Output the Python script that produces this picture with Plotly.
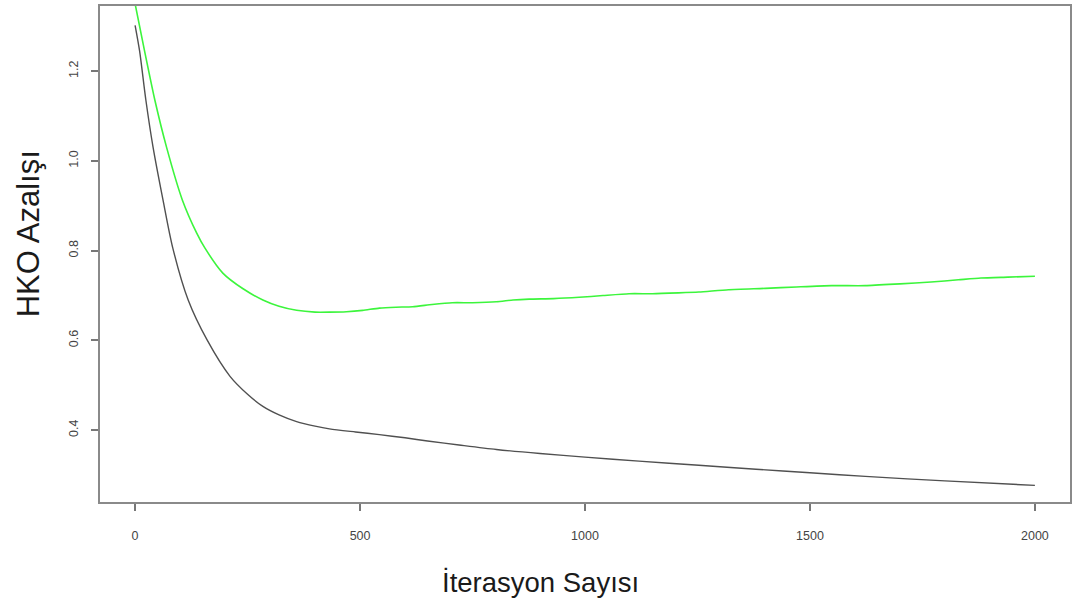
import plotly.graph_objects as go

# Black series (iteration, value)
black_x = [0, 10, 24, 40, 62, 84, 118, 160, 211, 250, 284, 320, 359, 400, 432, 490, 543, 600, 650, 720, 803, 900, 1000, 1120, 1253, 1380, 1500, 1623, 1800, 2000]
black_y = [1.302, 1.245, 1.135, 1.030, 0.913, 0.805, 0.690, 0.601, 0.520, 0.480, 0.453, 0.434, 0.419, 0.409, 0.403, 0.396, 0.390, 0.383, 0.376, 0.367, 0.357, 0.348, 0.340, 0.331, 0.322, 0.313, 0.305, 0.297, 0.287, 0.277]

# Green series
green_x = [0, 20, 44, 70, 105, 137, 155, 195, 240, 284, 320, 359, 400, 432, 470, 506, 543, 580, 617, 660, 705, 750, 803, 840, 876, 930, 987, 1040, 1098, 1150, 1208, 1253, 1319, 1401, 1470, 1548, 1623, 1700, 1769, 1830, 1880, 1940, 2000]
green_y = [1.35, 1.25, 1.135, 1.03, 0.913, 0.839, 0.806, 0.750, 0.715, 0.690, 0.676, 0.667, 0.663, 0.663, 0.664, 0.667, 0.672, 0.674, 0.675, 0.680, 0.684, 0.684, 0.686, 0.690, 0.692, 0.693, 0.696, 0.700, 0.704, 0.704, 0.706, 0.708, 0.713, 0.716, 0.719, 0.722, 0.722, 0.726, 0.730, 0.735, 0.739, 0.741, 0.743]

x_ticks = [0, 500, 1000, 1500, 2000]
y_ticks = [0.4, 0.6, 0.8, 1.0, 1.2]
y_tick_text = ["0.4", "0.6", "0.8", "1.0", "1.2"]

x_title = "İterasyon Sayısı"
y_title = "HKO Azalışı"

fig = go.Figure()
fig.add_trace(go.Scatter(x=black_x, y=black_y, mode="lines",
                         line=dict(color="#505050", width=1.4, shape="spline", smoothing=0.8),
                         showlegend=False))
fig.add_trace(go.Scatter(x=green_x, y=green_y, mode="lines",
                         line=dict(color="#3cf53c", width=1.6, shape="spline", smoothing=0.6),
                         showlegend=False))

axis_common = dict(showgrid=False, zeroline=False, showline=True, mirror=True,
                   linecolor="#8a8a8a", linewidth=2, ticks="outside", ticklen=7,
                   tickwidth=1.5, tickcolor="#777777",
                   tickfont=dict(family="Liberation Sans, Arial, sans-serif", size=12.5, color="#444444"))

fig.update_xaxes(range=[-78, 2078], tickvals=x_ticks, ticktext=[str(v) for v in x_ticks],
                 ticklabelstandoff=14, **axis_common)
fig.update_yaxes(range=[0.240, 1.345], tickvals=y_ticks, ticktext=y_tick_text,
                 tickangle=-90, ticklabelstandoff=8, **axis_common)

fig.update_layout(
    width=1076, height=603,
    margin=dict(l=100, r=4, t=6, b=101),
    paper_bgcolor="white", plot_bgcolor="white",
    annotations=[
        dict(text=x_title, x=0.4537, y=-0.1633, xref="paper", yref="paper",
             xanchor="center", yanchor="middle", showarrow=False,
             font=dict(family="Liberation Sans, Arial, sans-serif", size=27.5, color="#1a1a1a")),
        dict(text=y_title, x=-0.0741, y=0.54, xref="paper", yref="paper",
             xanchor="center", yanchor="middle", showarrow=False, textangle=-90,
             font=dict(family="Liberation Sans, Arial, sans-serif", size=31, color="#1a1a1a")),
    ],
)

fig.write_html("out.html")
